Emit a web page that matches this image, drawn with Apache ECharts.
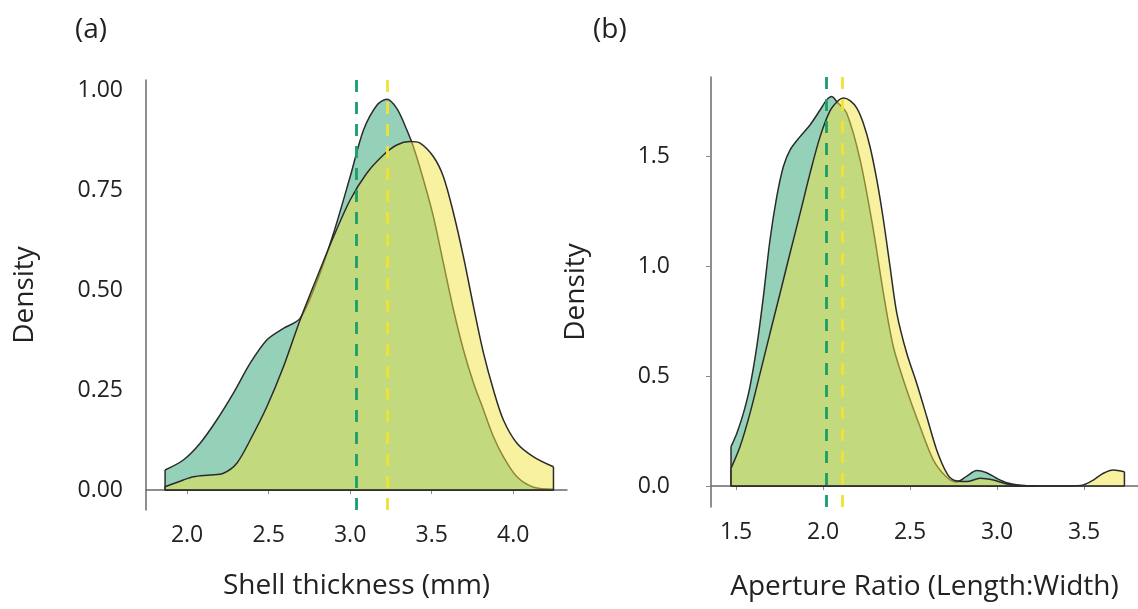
<!DOCTYPE html>
<html>
<head>
<meta charset="utf-8">
<script src="https://cdn.jsdelivr.net/npm/echarts@6/dist/echarts.min.js"></script>
<style>
  html, body { margin: 0; padding: 0; background: #fff; }
  #chart { width: 1138px; height: 609px; }
</style>
</head>
<body>
<div id="chart"></div>
<script>
// (a) shell thickness - density curves
const shellGreenX = [1.865, 1.977, 2.08, 2.182, 2.284, 2.387, 2.489, 2.591, 2.693, 2.795, 2.898, 3.0, 3.082, 3.164, 3.225, 3.286, 3.348, 3.388, 3.45, 3.511, 3.572, 3.634, 3.695, 3.757, 3.818, 3.879, 3.94, 4.023, 4.125, 4.247]
const shellGreenY = [0.05, 0.075, 0.117, 0.175, 0.242, 0.317, 0.375, 0.404, 0.429, 0.52, 0.642, 0.783, 0.9, 0.962, 0.977, 0.954, 0.9, 0.858, 0.775, 0.683, 0.567, 0.45, 0.35, 0.267, 0.2, 0.133, 0.083, 0.033, 0.007, 0.002]
const shellYellowX = [1.865, 1.977, 2.039, 2.141, 2.223, 2.305, 2.387, 2.489, 2.591, 2.693, 2.795, 2.898, 3.0, 3.102, 3.204, 3.286, 3.368, 3.429, 3.511, 3.572, 3.634, 3.695, 3.757, 3.818, 3.879, 3.94, 4.023, 4.125, 4.247]
const shellYellowY = [0.008, 0.025, 0.033, 0.0375, 0.042, 0.067, 0.125, 0.208, 0.308, 0.425, 0.53, 0.633, 0.725, 0.792, 0.8375, 0.8625, 0.871, 0.867, 0.833, 0.783, 0.692, 0.583, 0.458, 0.342, 0.25, 0.175, 0.117, 0.083, 0.058]
const shellMeans = [3.04, 3.225] // green, yellow
const shellTicks = [2.0, 2.5, 3.0, 3.5, 4.0]
const shellDensityTicks = [0, 0.25, 0.5, 0.75, 1]

// (b) aperture ratio
const apGreenX = [1.471, 1.504, 1.542, 1.58, 1.619, 1.657, 1.695, 1.734, 1.772, 1.81, 1.868, 1.925, 1.983, 2.021, 2.05, 2.079, 2.136, 2.213, 2.289, 2.347, 2.404, 2.481, 2.557, 2.634, 2.711, 2.768, 2.826, 2.883, 2.94, 2.998, 3.056, 3.132, 3.228]
const apGreenY = [0.179, 0.239, 0.33, 0.452, 0.633, 0.861, 1.118, 1.315, 1.452, 1.527, 1.588, 1.641, 1.709, 1.755, 1.77, 1.747, 1.694, 1.482, 1.164, 0.876, 0.633, 0.436, 0.27, 0.118, 0.04, 0.018, 0.045, 0.07, 0.06, 0.035, 0.015, 0.003, 0]
const apYellowX = [1.471, 1.523, 1.58, 1.638, 1.695, 1.753, 1.81, 1.868, 1.925, 1.983, 2.04, 2.088, 2.117, 2.155, 2.194, 2.232, 2.27, 2.309, 2.347, 2.385, 2.424, 2.481, 2.538, 2.596, 2.653, 2.711, 2.749, 2.826, 2.902, 2.979, 3.056, 3.132, 3.228, 3.324, 3.42, 3.496, 3.553, 3.611, 3.668, 3.732]
const apYellowY = [0.08, 0.179, 0.33, 0.512, 0.694, 0.876, 1.058, 1.239, 1.421, 1.588, 1.705, 1.752, 1.764, 1.752, 1.718, 1.648, 1.542, 1.391, 1.209, 0.997, 0.785, 0.603, 0.467, 0.315, 0.164, 0.058, 0.027, 0.02, 0.035, 0.027, 0.009, 0.002, 0, 0, 0, 0.005, 0.027, 0.058, 0.073, 0.065]
const apMeans = [2.02, 2.11]
const apTicks = [1.5, 2.0, 2.5, 3.0, 3.5]
const apDensityTicks = [0, 0.5, 1.0, 1.5]

const GREEN_FILL = 'rgba(20,150,100,0.45)'
const YELLOW_FILL = 'rgba(240,228,66,0.5)'
const GREEN_DASH = '#1a9e6a'
const YELLOW_DASH = '#f0e235'
const OUTLINE = '#2b2b2b'
const AXIS = '#6a6a6a'
const TEXT = '#222'
const FONT = 'Open Sans'

function zip(xs, ys) {
  return xs.map((x, i) => [x, ys[i]])
}

// vertical ends + baseline of the density polygon
function edges(pts) {
  const a = pts[0]
  const b = pts[pts.length - 1]
  return [a, [a[0], 0], [b[0], 0], b]
}

// z keeps the yellow fill above the green outline
function densitySeries(idx, pts, fill, z) {
  return [
    {
      type: 'line',
      xAxisIndex: idx,
      yAxisIndex: idx,
      z: z,
      data: pts,
      smooth: 0.3,
      symbol: 'none',
      lineStyle: { color: OUTLINE, width: 1.5 },
      areaStyle: { color: fill, opacity: 1 }
    },
    {
      type: 'line',
      xAxisIndex: idx,
      yAxisIndex: idx,
      z: z,
      data: edges(pts),
      symbol: 'none',
      lineStyle: { color: OUTLINE, width: 1.5 }
    }
  ]
}

function meanLines(idx, means) {
  const dash = { type: [12, 10], width: 2.8 }
  return {
    type: 'line',
    xAxisIndex: idx,
    yAxisIndex: idx,
    data: [],
    z: 6,
    markLine: {
      silent: true,
      symbol: 'none',
      label: { show: false },
      data: [
        { xAxis: means[0], lineStyle: Object.assign({ color: GREEN_DASH }, dash) },
        { xAxis: means[1], lineStyle: Object.assign({ color: YELLOW_DASH }, dash) }
      ]
    }
  }
}

function xAxisOf(idx, min, max, ticks, name, gap) {
  return {
    gridIndex: idx,
    type: 'value',
    min: min,
    max: max,
    name: name,
    nameLocation: 'middle',
    nameGap: gap,
    nameTextStyle: { fontSize: 28, color: TEXT, fontFamily: FONT },
    axisLine: { lineStyle: { color: AXIS, width: 1.5 } },
    axisTick: { show: true, customValues: ticks, length: 4, lineStyle: { color: '#888' } },
    axisLabel: { customValues: ticks, formatter: v => v.toFixed(1), fontSize: 23, color: TEXT, fontFamily: FONT, margin: 14 },
    splitLine: { show: false }
  }
}

function yAxisOf(idx, min, max, ticks, digits, showTick, margin, gap) {
  return {
    gridIndex: idx,
    type: 'value',
    min: min,
    max: max,
    name: 'Density',
    nameLocation: 'middle',
    nameGap: gap,
    nameTextStyle: { fontSize: 28, color: TEXT, fontFamily: FONT },
    axisLine: { show: true, lineStyle: { color: AXIS, width: 1.5 } },
    axisTick: { show: showTick, customValues: ticks, length: 5, lineStyle: { color: '#888' } },
    axisLabel: { customValues: ticks, formatter: v => v.toFixed(digits), fontSize: 23, color: TEXT, fontFamily: FONT, margin: margin },
    splitLine: { show: false }
  }
}

const chart = echarts.init(document.getElementById('chart'))
chart.setOption({
  animation: false,
  backgroundColor: '#fff',
  title: [
    { text: '(a)', left: 70, top: 11, textStyle: { fontSize: 28, fontWeight: 'normal', color: TEXT, fontFamily: FONT } },
    { text: '(b)', left: 588, top: 11, textStyle: { fontSize: 28, fontWeight: 'normal', color: TEXT, fontFamily: FONT } }
  ],
  grid: [
    { left: 146, top: 80, width: 421, height: 430 },
    { left: 711, top: 77, width: 427, height: 430 }
  ],
  xAxis: [
    xAxisOf(0, 1.748, 4.33, shellTicks, 'Shell thickness (mm)', 62),
    xAxisOf(1, 1.356, 3.81, apTicks, 'Aperture Ratio (Length:Width)', 66)
  ],
  yAxis: [
    yAxisOf(0, -0.05, 1.025, shellDensityTicks, 2, false, 23, 107),
    yAxisOf(1, -0.0955, 1.859, apDensityTicks, 1, true, 41, 121)
  ],
  series: [].concat(
    densitySeries(0, zip(shellGreenX, shellGreenY), GREEN_FILL, 2),
    densitySeries(0, zip(shellYellowX, shellYellowY), YELLOW_FILL, 3),
    [meanLines(0, shellMeans)],
    densitySeries(1, zip(apGreenX, apGreenY), GREEN_FILL, 2),
    densitySeries(1, zip(apYellowX, apYellowY), YELLOW_FILL, 3),
    [meanLines(1, apMeans)]
  )
})
</script>
</body>
</html>
